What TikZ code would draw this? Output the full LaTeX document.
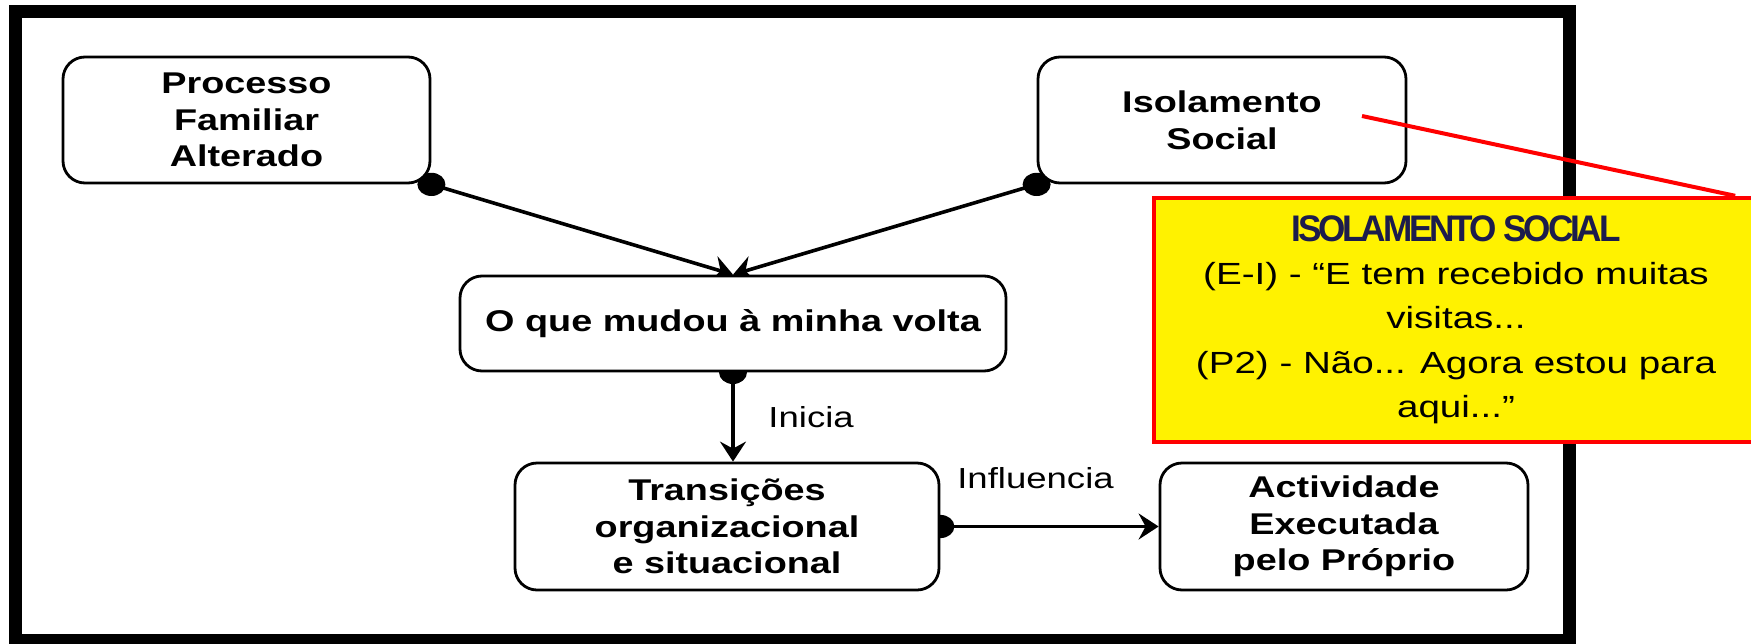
\documentclass[tikz,border=0pt]{standalone}
\usepackage{fontspec}
\setmainfont{Liberation Sans}[FakeStretch=1.26]
\newfontfamily\titlefont{Liberation Sans}[FakeStretch=0.95,LetterSpace=-8.5]
\usetikzlibrary{arrows.meta,positioning,backgrounds}
\definecolor{notenavy}{RGB}{28,28,76}
\tikzset{
    outerframe/.style={black,line width=6.5pt},
    box/.style={draw=black,fill=white,line width=1.4pt,rounded corners=11pt,align=center,
        font=\fontsize{15pt}{18.3pt}\selectfont\bfseries},
    link/.style={black,line width=1.8pt,-{Stealth[length=10pt,width=13pt,inset=3.5pt]}},
    knob/.style={fill=black},
    tag/.style={font=\fontsize{14.5pt}{17pt}\selectfont},
    callout/.style={draw=red,fill=yellow,line width=2.2pt,align=center,
        font=\fontsize{15.3pt}{22.3pt}\selectfont},
    leader/.style={red,line width=2pt}
}

\begin{document}
\begin{tikzpicture}[x=0.5pt,y=-0.5pt]
\useasboundingbox (0,0) rectangle (1751,643);
% boxes
\node[box,minimum width=183.5pt,minimum height=63pt] (proc) at (246.5,120) {Processo\\Familiar\\Alterado};
\node[box,minimum width=184pt,minimum height=63pt] (iso) at (1222,120) {Isolamento\\Social};
\node[box,minimum width=273pt,minimum height=47.5pt] (mudou) at (733,323.5) {O que mudou à minha volta};
\node[box,minimum width=212pt,minimum height=63.5pt] (trans) at (727,526.5) {Transições\\organizacional\\ e situacional};
\node[box,minimum width=184pt,minimum height=63.5pt] (activ) at (1344,526.5) {Actividade\\Executada\\pelo Próprio};
% connectors behind the boxes
\begin{scope}[on background layer]
\draw[outerframe] (15.5,11) rectangle (1569.5,640);
\draw[link] (proc.south east) -- (mudou.north);
\draw[link] (iso.south west) -- (mudou.north);
\draw[link] (mudou.south) -- (mudou.south |- trans.north) node[midway,right=13.5pt,tag] (inicia) {Inicia};
\draw[link] (trans.east) -- (activ.west) node[midway,above=14.5pt,xshift=-7pt,tag] (infl) {Influencia};
\fill[knob] (proc.south east) ellipse[x radius=7pt,y radius=5.8pt];
\fill[knob] (iso.south west) ellipse[x radius=7pt,y radius=5.8pt];
\fill[knob] (mudou.south) ellipse[x radius=7pt,y radius=5.8pt];
\fill[knob] (trans.east) ellipse[x radius=7pt,y radius=5.8pt];
\end{scope}
% note
\node[callout,minimum width=302pt,minimum height=122pt] (note) at (1456,320)
    {{\titlefont\bfseries\color{notenavy}\fontsize{18.5pt}{21pt}\selectfont ISOLAMENTO SOCIAL}\\[-1pt]
     (E-I) - “E tem recebido muitas\\visitas...\\(P2) - Não... Agora estou para\\aqui...”};
\coordinate (pin) at (1362,116);
\draw[leader] (pin) -- ([xshift=-12.5pt]note.north east);
\end{tikzpicture}
\end{document}
